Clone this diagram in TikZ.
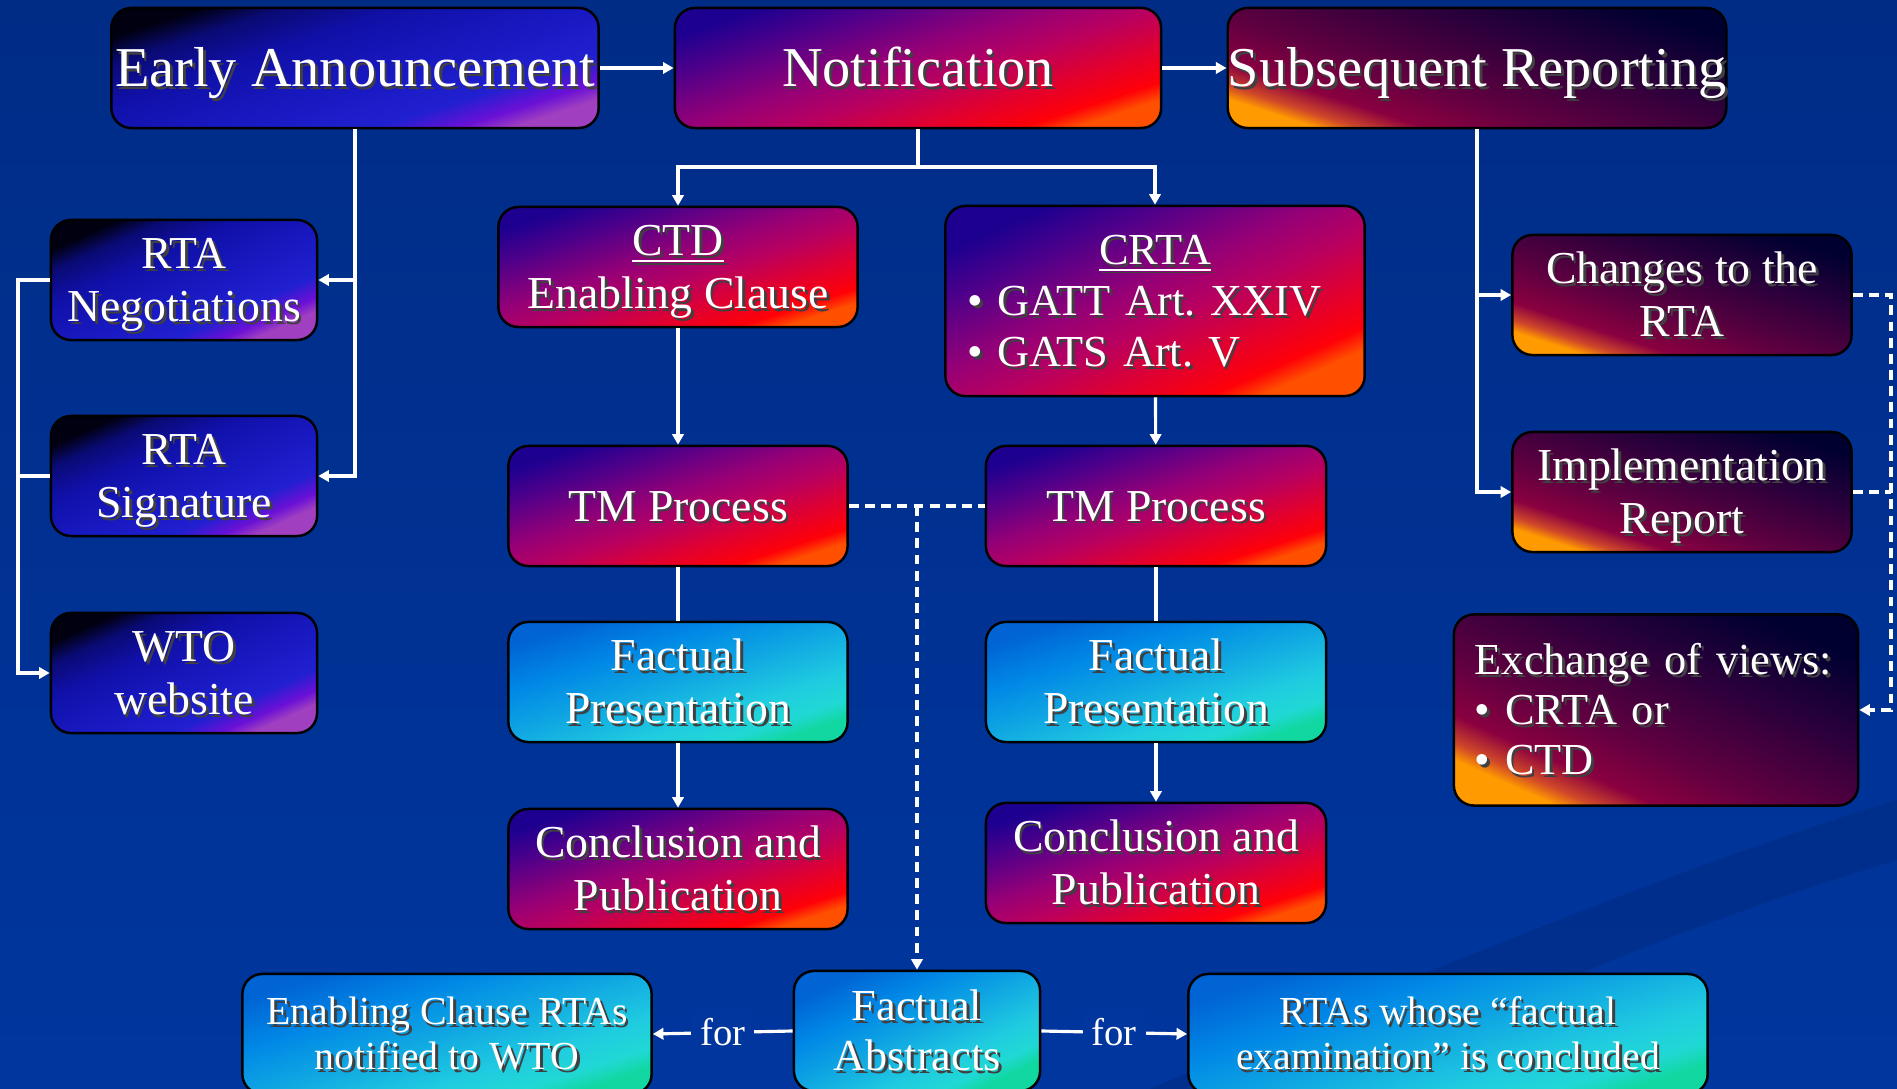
\documentclass[tikz,border=0pt]{standalone}
\usepackage{fontspec}
\setmainfont{Liberation Serif}
\usetikzlibrary{arrows.meta}

\definecolor{bgtop}{HTML}{002C86}
\definecolor{bgbot}{HTML}{00369E}
\definecolor{swoosh}{HTML}{002A80}
% blue boxes
\definecolor{bl0}{HTML}{000010}
\definecolor{bl1}{HTML}{0A0A74}
\definecolor{bl2}{HTML}{1010A8}
\definecolor{bl3}{HTML}{1818C0}
\definecolor{bl4}{HTML}{2020D0}
\definecolor{bl5}{HTML}{6A10D6}
\definecolor{bl6}{HTML}{A040C0}
% magenta boxes
\definecolor{mg0}{HTML}{1E0090}
\definecolor{mg1}{HTML}{50008A}
\definecolor{mg2}{HTML}{960076}
\definecolor{mg3}{HTML}{B80060}
\definecolor{mg4}{HTML}{E00030}
\definecolor{mg5}{HTML}{FF0008}
\definecolor{mg6}{HTML}{FF5000}
% dark boxes
\definecolor{dk0}{HTML}{FF9A00}
\definecolor{dk1}{HTML}{D04828}
\definecolor{dk2}{HTML}{8A0040}
\definecolor{dk3}{HTML}{600040}
\definecolor{dk4}{HTML}{30003C}
\definecolor{dk5}{HTML}{000030}
% cyan boxes
\definecolor{cy0}{HTML}{0064D4}
\definecolor{cy1}{HTML}{0088E6}
\definecolor{cy2}{HTML}{10A8E2}
\definecolor{cy3}{HTML}{20CCE0}
\definecolor{cy4}{HTML}{20D8D4}
\definecolor{cy5}{HTML}{10D8A0}

\pgfdeclarehorizontalshading{bluegrad}{100bp}{color(0bp)=(bl0); color(25bp)=(bl0); color(31bp)=(bl1); color(40bp)=(bl2); color(52.5bp)=(bl3); color(65bp)=(bl4); color(71bp)=(bl5); color(75bp)=(bl6); color(100bp)=(bl6)}
\pgfdeclarehorizontalshading{maggrad}{100bp}{color(0bp)=(mg0); color(25bp)=(mg0); color(34bp)=(mg1); color(46bp)=(mg2); color(54bp)=(mg3); color(63bp)=(mg4); color(71bp)=(mg5); color(75bp)=(mg6); color(100bp)=(mg6)}
\pgfdeclarehorizontalshading{darkgrad}{100bp}{color(0bp)=(dk0); color(25bp)=(dk0); color(28bp)=(dk1); color(33bp)=(dk2); color(43bp)=(dk3); color(58bp)=(dk4); color(75bp)=(dk5); color(100bp)=(dk5)}
\pgfdeclarehorizontalshading{cyangrad}{100bp}{color(0bp)=(cy0); color(25bp)=(cy0); color(37.5bp)=(cy1); color(50bp)=(cy2); color(62.5bp)=(cy3); color(70bp)=(cy4); color(75bp)=(cy5); color(100bp)=(cy5)}

% white text line with a soft dark shadow, fixed height and depth
\newcommand\shd[1]{\raisebox{0pt}[0.86em][0.2em]{\makebox[0pt][l]{\hspace{0.8pt}\raisebox{-0.8pt}{\color{black!75}#1}}#1}}

\tikzset{
  box/.style={rounded corners=0.2cm, draw=black, line width=0.7pt, inner sep=0pt,
    minimum height=1.2cm, text=white, align=center, font=\fontsize{13}{15}\selectfont},
  bluebox/.style={box, shade, shading=bluegrad, shading angle=-72},
  magbox/.style={box, shade, shading=maggrad, shading angle=-72},
  darkbox/.style={box, shade, shading=darkgrad, shading angle=72},
  cyanbox/.style={box, shade, shading=cyangrad, shading angle=-72},
  bigtxt/.style={font=\fontsize{16}{19}\selectfont},
  smalltxt/.style={font=\fontsize{11.3}{12.8}\selectfont},
  link/.style={draw=white, line width=0.9pt},
  dashlink/.style={link, dash pattern=on 2.8pt off 1.8pt},
  forlbl/.style={fill=bgbot, text=white, inner sep=2.5pt, font=\fontsize{11}{13}\selectfont},
}

\begin{document}
\begin{tikzpicture}[x=0.01cm, y=-0.01cm, >={Triangle[length=3pt,width=3.2pt]}]
	\useasboundingbox (0,0) rectangle (1897,1089);
	\clip (0,0) rectangle (1897,1089);
	
	% background
	\shade[top color=bgtop, bottom color=bgbot] (0,0) rectangle (1897,1089);
	\fill[swoosh, opacity=0.5] (1150,1089) .. controls (1450,960) and (1700,860) .. (1897,800)
		-- (1897,860) .. controls (1700,920) and (1500,1000) .. (1330,1089) -- cycle;
	
	% top row
	\node[bluebox, bigtxt, minimum width=4.87cm] (ea)    at (355, 68)  {\shd{Early Announcement}};
	\node[magbox,  bigtxt, minimum width=4.86cm] (notif) at (918, 68)  {\shd{Notification}};
	\node[darkbox, bigtxt, minimum width=4.87cm] (sr)    at (1477, 68) {\shd{Subsequent Reporting}};
	
	% left column
	\node[bluebox, minimum width=2.66cm, shading angle=-66] (rtaneg) at (184, 280) {\shd{RTA}\\\shd{Negotiations}};
	\node[bluebox, minimum width=2.66cm, shading angle=-66] (rtasig) at (184, 476) {\shd{RTA}\\\shd{Signature}};
	\node[bluebox, minimum width=2.66cm, shading angle=-66] (wto)    at (184, 673) {\shd{WTO}\\\shd{website}};
	
	% CTD branch
	\node[magbox,  minimum width=3.59cm] (ctd)  at (678, 267) {\shd{\underline{CTD}}\\\shd{Enabling Clause}};
	\node[magbox,  minimum width=3.39cm] (tml)  at (678, 506) {\shd{TM Process}};
	\node[cyanbox, minimum width=3.39cm] (fpl)  at (678, 682) {\shd{Factual}\\\shd{Presentation}};
	\node[magbox,  minimum width=3.39cm] (conl) at (678, 869) {\shd{Conclusion and}\\\shd{Publication}};
	
	% CRTA branch
	\node[magbox, minimum width=4.19cm, minimum height=1.9cm, shading angle=-66, align=left, text width=3.75cm,
		font=\fontsize{12.6}{14.5}\selectfont] (crta) at (1155, 301)
		{\makebox[\linewidth][c]{\shd{\underline{CRTA}}}\\\shd{\textbullet\ GATT Art.\ XXIV}\\\shd{\textbullet\ GATS Art.\ V}};
	\node[magbox,  minimum width=3.40cm] (tmr)  at (1156, 506) {\shd{TM Process}};
	\node[cyanbox, minimum width=3.40cm] (fpr)  at (1156, 682) {\shd{Factual}\\\shd{Presentation}};
	\node[magbox,  minimum width=3.40cm] (conr) at (1156, 863) {\shd{Conclusion and}\\\shd{Publication}};
	
	% subsequent reporting
	\node[darkbox, minimum width=3.39cm] (chg)  at (1682, 295) {\shd{Changes to the}\\\shd{RTA}};
	\node[darkbox, minimum width=3.39cm] (impl) at (1682, 492) {\shd{Implementation}\\\shd{Report}};
	\node[darkbox, minimum width=4.04cm, minimum height=1.91cm, shading angle=66, align=left, text width=3.62cm,
		font=\fontsize{12.6}{14.3}\selectfont] (exv) at (1656, 710)
		{\shd{Exchange of views:}\\\shd{\textbullet\ CRTA or}\\\shd{\textbullet\ CTD}};
	
	% bottom row
	\node[cyanbox, smalltxt, minimum width=4.09cm] (ecr)  at (447, 1034)  {\shd{Enabling Clause RTAs}\\\shd{notified to WTO}};
	\node[cyanbox, font=\fontsize{12.6}{14.4}\selectfont, minimum width=2.46cm, shading angle=-64] (fa) at (917, 1031) {\shd{Factual}\\\shd{Abstracts}};
	\node[cyanbox, smalltxt, minimum width=5.19cm] (rtaw) at (1448, 1034) {\shd{RTAs whose “factual}\\\shd{examination” is concluded}};
	
	\coordinate (lft) at (18, 0);
	\coordinate (rgt) at (1891, 0);
	\coordinate (nsplit) at (918, 167);
	
	% connectors
	\path[link, ->] (ea) -- (notif);
	\path[link, ->] (notif) -- (sr);
	\path[link, ->] (ea.south) |- (rtaneg.east);
	\path[link, ->] (ea.south) |- (rtasig.east);
	\path[link, ->] (rtaneg.west) -- (rtaneg.west -| lft) |- (wto.west);
	\path[link]     (rtasig.west) -- (rtasig.west -| lft);
	\path[link]     (notif.south) -- (nsplit);
	\path[link, ->] (nsplit) -| (ctd.north);
	\path[link, ->] (nsplit) -| (crta.north);
	\path[link, ->] (ctd) -- (tml);
	\path[link, ->] (crta) -- (tmr);
	\path[link]     (tml) -- (fpl);
	\path[link]     (tmr) -- (fpr);
	\path[link, ->] (fpl) -- (conl);
	\path[link, ->] (fpr) -- (conr);
	\path[dashlink]     (tml.east) -- (tmr.west);
	\path[dashlink, ->] (tml.east -| fa.north) -- (fa.north);
	\path[link, ->] (fa.west) -- node[forlbl] {for} (ecr.east);
	\path[link, ->] (fa.east) -- node[forlbl] {for} (rtaw.west);
	\path[link, ->] (sr.south) |- (chg.west);
	\path[link, ->] (sr.south) |- (impl.west);
	\path[dashlink, ->] (chg.east) -- (chg.east -| rgt) |- (exv.east);
	\path[dashlink]     (impl.east) -- (impl.east -| rgt);
	
\end{tikzpicture}
\end{document}
